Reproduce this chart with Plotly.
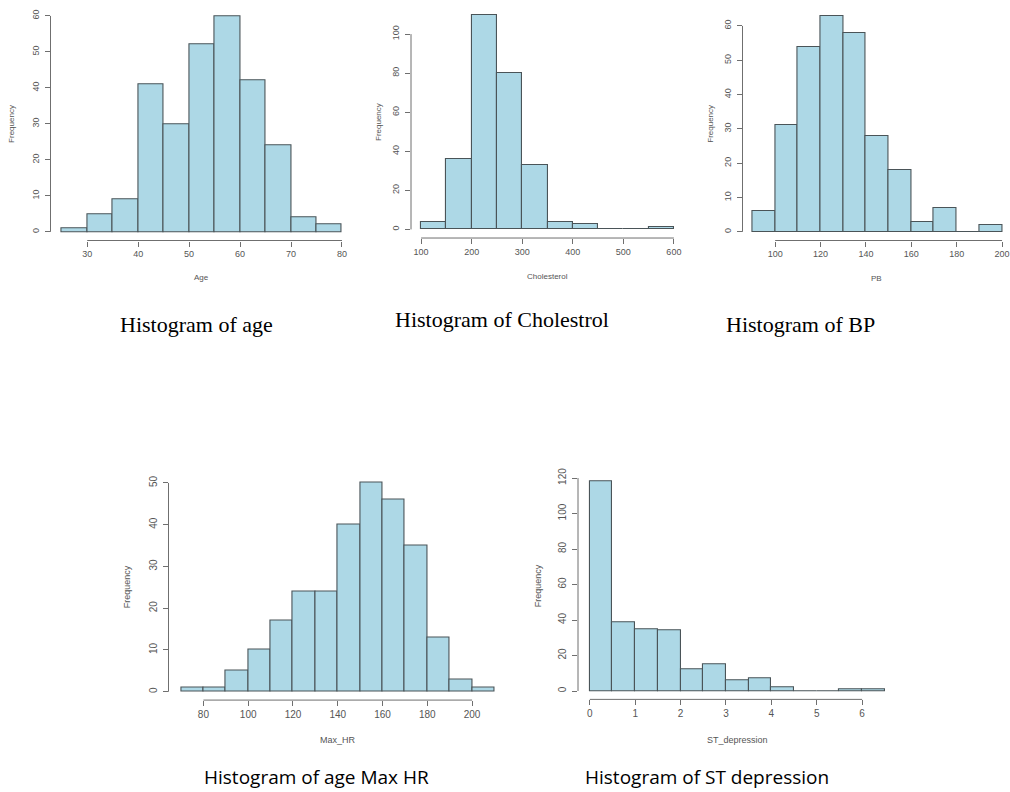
import plotly.graph_objects as go

W, H = 1010, 792

# ---- data ----
age_breaks = [25, 30, 35, 40, 45, 50, 55, 60, 65, 70, 75, 80]
age_counts = [1, 5, 9, 41, 30, 52, 60, 42, 24, 4, 2]
age_xticks = [30, 40, 50, 60, 70, 80]
age_yticks = [0, 10, 20, 30, 40, 50, 60]

chol_breaks = [100, 150, 200, 250, 300, 350, 400, 450, 500, 550, 600]
chol_counts = [4, 36, 110, 80, 33, 4, 3, 0, 0, 1]
chol_xticks = [100, 200, 300, 400, 500, 600]
chol_yticks = [0, 20, 40, 60, 80, 100]

bp_breaks = [90, 100, 110, 120, 130, 140, 150, 160, 170, 180, 190, 200]
bp_counts = [6, 31, 54, 63, 58, 28, 18, 3, 7, 0, 2]
bp_xticks = [100, 120, 140, 160, 180, 200]
bp_yticks = [0, 10, 20, 30, 40, 50, 60]

hr_breaks = [70, 80, 90, 100, 110, 120, 130, 140, 150, 160, 170, 180, 190, 200, 210]
hr_counts = [1, 1, 5, 10, 17, 24, 24, 40, 50, 46, 35, 13, 3, 1]
hr_xticks = [80, 100, 120, 140, 160, 180, 200]
hr_yticks = [0, 10, 20, 30, 40, 50]

st_breaks = [0, 0.5, 1, 1.5, 2, 2.5, 3, 3.5, 4, 4.5, 5, 5.5, 6, 6.5]
st_counts = [118, 39, 35, 34, 12, 15, 6, 7, 2, 0, 0, 1, 1]
st_xticks = [0, 1, 2, 3, 4, 5, 6]
st_yticks = [0, 20, 40, 60, 80, 100, 120]

x_labels = ["Age", "Cholesterol", "PB", "Max_HR", "ST_depression"]
captions = ["Histogram of age", "Histogram of Cholestrol", "Histogram of BP",
            "Histogram of age Max HR", "Histogram of ST depression"]

# ---- layout of panels (pixels) ----
# (x0, x1, ytop, ybottom) plot region in px
panels = [
    dict(breaks=age_breaks, counts=age_counts, xt=age_xticks, yt=age_yticks,
         box=(50.5, 353.2, 2.3, 237.0), tickfont=9, ylab_x=12, xlab_y=274, xmax=None),
    dict(breaks=chol_breaks, counts=chol_counts, xt=chol_xticks, yt=chol_yticks,
         box=(411.0, 684.0, 1.0, 234.5), tickfont=9, ylab_x=378, xlab_y=273, xmax=None),
    dict(breaks=bp_breaks, counts=bp_counts, xt=bp_xticks, yt=bp_yticks,
         box=(742.5, 1010.0, 2.0, 237.0), tickfont=9, ylab_x=711, xlab_y=275, xmax=203.5),
    dict(breaks=hr_breaks, counts=hr_counts, xt=hr_xticks, yt=hr_yticks,
         box=(168.5, 507.0, 472.6, 699.5), tickfont=10, ylab_x=127, xlab_y=740, xmax=None),
    dict(breaks=st_breaks, counts=st_counts, xt=st_xticks, yt=st_yticks,
         box=(578.0, 896.6, 471.2, 698.8), tickfont=10, ylab_x=538, xlab_y=740, xmax=None),
]

caption_pos = [(196, 322, "serif"), (502, 317, "serif"), (800, 322, "serif"),
               (316, 777, "sans"), (707, 777, "sans")]

FILL = "#ADD8E6"
EDGE = "#4a5458"
AXIS = "#6f6f6f"
TXT = "#555555"
FONT = "Liberation Sans, Arial, sans-serif"

fig = go.Figure()
shapes = []
annotations = []
layout = dict(width=W, height=H, margin=dict(l=0, r=0, t=0, b=0),
              paper_bgcolor="white", plot_bgcolor="white", showlegend=False,
              bargap=0)

for i, p in enumerate(panels):
    n = "" if i == 0 else str(i + 1)
    xa, ya = "x" + n, "y" + n
    br, ct = p["breaks"], p["counts"]
    centers = [(br[k] + br[k + 1]) / 2 for k in range(len(ct))]
    widths = [br[k + 1] - br[k] for k in range(len(ct))]
    fig.add_trace(go.Bar(x=centers, y=ct, width=widths, xaxis=xa, yaxis=ya,
                         marker=dict(color=FILL, line=dict(color=EDGE, width=1.1)),
                         hoverinfo="x+y"))
    # R-style ranges (4% padding)
    xr = [br[0], br[-1]]
    xp = 0.04 * (xr[1] - xr[0])
    xrange = [xr[0] - xp, xr[1] + xp if p["xmax"] is None else p["xmax"]]
    ymax = max(ct)
    yp = 0.04 * ymax
    yrange = [-yp, ymax + yp]
    x0, x1, yt, yb = p["box"]
    common = dict(showgrid=False, zeroline=False, showline=False, ticks="outside",
                  ticklen=5, tickwidth=1, tickcolor=AXIS,
                  tickfont=dict(family=FONT, size=p["tickfont"], color=TXT),
                  fixedrange=True)
    layout["xaxis" + n] = dict(common, domain=[x0 / W, x1 / W], range=xrange,
                               anchor=ya, tickmode="array", tickvals=p["xt"],
                               ticktext=[str(v) for v in p["xt"]])
    layout["yaxis" + n] = dict(common, domain=[1 - yb / H, 1 - yt / H], range=yrange,
                               anchor=xa, tickmode="array", tickvals=p["yt"],
                               ticktext=[str(v) for v in p["yt"]], tickangle=-90,
                               ticklabelstandoff=2)
    # R-style axis lines spanning first..last tick
    shapes.append(dict(type="line", xref=xa, yref=ya + " domain",
                       x0=p["xt"][0], x1=p["xt"][-1], y0=0, y1=0,
                       line=dict(color=AXIS, width=1)))
    shapes.append(dict(type="line", xref=xa + " domain", yref=ya,
                       x0=0, x1=0, y0=p["yt"][0], y1=p["yt"][-1],
                       line=dict(color=AXIS, width=1)))
    # axis titles
    annotations.append(dict(text=x_labels[i], xref=xa + " domain", x=0.5,
                            yref="paper", y=1 - p["xlab_y"] / H, showarrow=False,
                            xanchor="center", yanchor="middle",
                            font=dict(family=FONT, size=p["tickfont"] - 1, color=TXT)))
    annotations.append(dict(text="Frequency", xref="paper", x=p["ylab_x"] / W,
                            yref=ya + " domain", y=0.5, showarrow=False, textangle=-90,
                            xanchor="center", yanchor="middle",
                            font=dict(family=FONT, size=p["tickfont"] - 1, color=TXT)))
    cx, cy, kind = caption_pos[i]
    if kind == "serif":
        cf = dict(family="Liberation Serif, Times New Roman, serif", size=22, color="black")
    else:
        cf = dict(family="Open Sans, sans-serif", size=19, color="black")
    annotations.append(dict(text=captions[i], xref="paper", yref="paper",
                            x=cx / W, y=1 - cy / H, showarrow=False,
                            xanchor="center", yanchor="middle", font=cf))

layout["shapes"] = shapes
layout["annotations"] = annotations
fig.update_layout(**layout)
fig.write_html("out.html")
